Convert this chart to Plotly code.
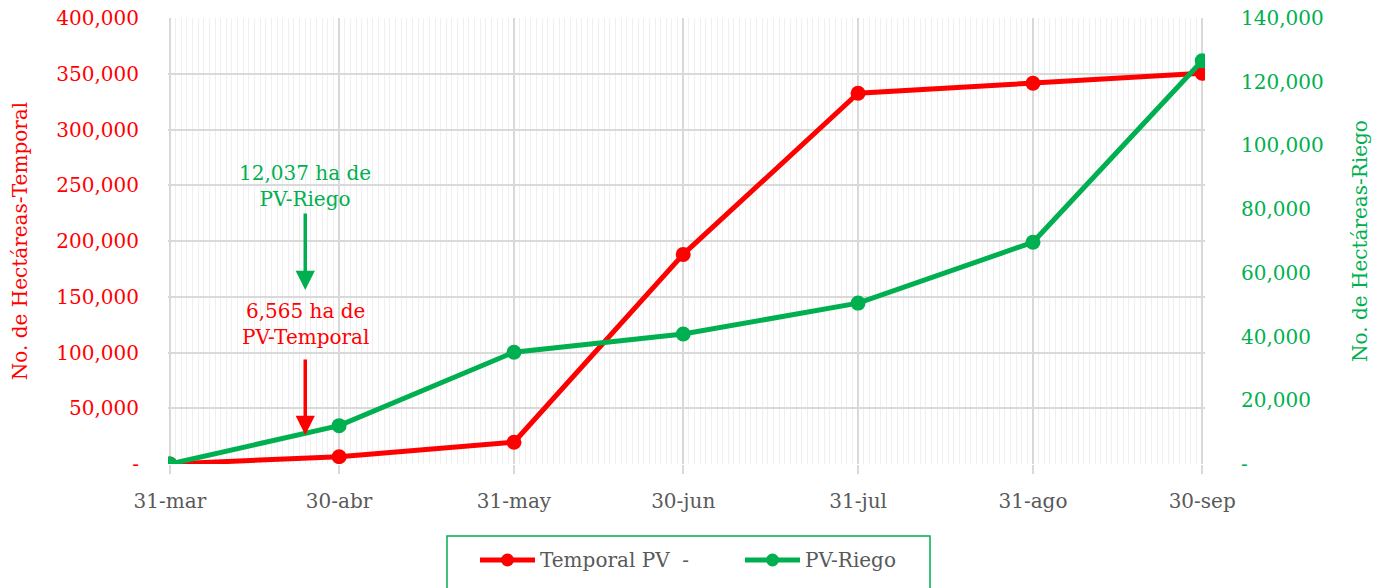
import plotly.graph_objects as go

fechas = ["2023-03-31", "2023-04-30", "2023-05-31", "2023-06-30", "2023-07-31", "2023-08-31", "2023-09-30"]
etiquetas = ["31-mar", "30-abr", "31-may", "30-jun", "31-jul", "31-ago", "30-sep"]
temporal = [0, 6565, 19500, 188000, 332500, 341500, 350500]
riego = [0, 12037, 35100, 40800, 50500, 69600, 126600]
series_names = ["Temporal PV\u00a0\u00a0-", "PV-Riego"]

left_ticks = [0, 50000, 100000, 150000, 200000, 250000, 300000, 350000, 400000]
left_text = ["-"] + [f"{v:,}" for v in left_ticks[1:]]
right_ticks = [0, 20000, 40000, 60000, 80000, 100000, 120000, 140000]
right_text = ["-"] + [f"{v:,}" for v in right_ticks[1:]]

RED = "#FF0000"
GREEN = "#00B050"
GREY = "#595959"
FONT = "DejaVu Serif"
FS = 20

fig = go.Figure()
fig.add_trace(go.Scatter(x=fechas, y=temporal, name=series_names[0], mode="lines+markers",
                         line=dict(color=RED, width=5), marker=dict(size=15, color=RED), yaxis="y"))
fig.add_trace(go.Scatter(x=fechas, y=riego, name=series_names[1], mode="lines+markers",
                         line=dict(color=GREEN, width=5), marker=dict(size=15, color=GREEN), yaxis="y2"))

# plot area spans x 168..1205, y 18..464
L, T, PW, PH = 168, 18, 1037, 446
def px(xp):
    return (xp - L) / PW
def py(yp):
    return (T + PH - yp) / PH

fig.update_layout(
    width=1382, height=588,
    margin=dict(l=168, r=177, t=18, b=124),
    paper_bgcolor="white", plot_bgcolor="white",
    font=dict(family=FONT, size=FS, color=GREY),
    showlegend=False,
    xaxis=dict(type="date", range=["2023-03-30 16:00", "2023-09-30 12:00"], automargin=False,
               tickmode="array", tickvals=fechas, ticktext=etiquetas,
               showgrid=True, gridcolor="#d9d9d9", gridwidth=1.5,
               ticks="outside", ticklen=9, tickcolor="#d9d9d9", tickwidth=1.5,
               ticklabelstandoff=10,
               tickfont=dict(size=FS, color=GREY),
               showline=False, zeroline=False,
               minor=dict(tickmode="linear", tick0="2023-03-31", dtick=86400000,
                          showgrid=True, gridcolor="#efefef", gridwidth=1, ticks="")),
    yaxis=dict(range=[0, 400000], tickmode="array", tickvals=left_ticks, ticktext=left_text,
               automargin=False, ticklabeloverflow="allow",
               tickfont=dict(size=FS, color=RED), showgrid=True, gridcolor="#d9d9d9", gridwidth=1.5,
               zeroline=False, ticks="outside", ticklen=24, tickcolor="rgba(0,0,0,0)",
               title=dict(text="No. de Hectáreas-Temporal", font=dict(size=FS, color=RED), standoff=23)),
    yaxis2=dict(range=[0, 140000], overlaying="y", side="right", tickmode="array", automargin=False,
                ticklabeloverflow="allow",
                tickvals=right_ticks, ticktext=right_text, tickfont=dict(size=FS, color=GREEN),
                showgrid=False, zeroline=False, ticks="outside", ticklen=31, tickcolor="rgba(0,0,0,0)",
                title=dict(text="No. de Hectáreas-Riego", font=dict(size=FS, color=GREEN), standoff=30)),
)

anns = [
    dict(x="2023-04-24", y=225000, text="12,037 ha de<br>PV-Riego", showarrow=False,
         font=dict(size=FS, color=GREEN), yanchor="bottom"),
    dict(x="2023-04-24", y=156000, ax=0, ay=-78, text="", showarrow=True, arrowcolor=GREEN,
         arrowwidth=3.5, arrowhead=2, arrowsize=1.1),
    dict(x="2023-04-24", y=101300, text="6,565 ha de<br>PV-Temporal", showarrow=False,
         font=dict(size=FS, color=RED), yanchor="bottom"),
    dict(x="2023-04-24", y=26000, ax=0, ay=-77, text="", showarrow=True, arrowcolor=RED,
         arrowwidth=3.5, arrowhead=2, arrowsize=1.1),
]

# legend box styled like the reference
shapes = [dict(type="rect", xref="paper", yref="paper", x0=px(447), x1=px(930), y0=py(536), y1=py(610),
               line=dict(color=GREEN, width=1.5), fillcolor="rgba(0,0,0,0)", layer="above")]
leg_y = 560
for (x0, x1, col, name) in [(480, 535, RED, series_names[0]), (745, 800, GREEN, series_names[1])]:
    shapes.append(dict(type="line", xref="paper", yref="paper", x0=px(x0), x1=px(x1), y0=py(leg_y), y1=py(leg_y),
                       line=dict(color=col, width=5), layer="above"))
    shapes.append(dict(type="circle", xref="paper", yref="paper", xsizemode="pixel", ysizemode="pixel",
                       xanchor=px((x0 + x1) / 2), yanchor=py(leg_y), x0=-6.5, x1=6.5, y0=-6.5, y1=6.5,
                       fillcolor=col, line=dict(color=col, width=0), layer="above"))
    anns.append(dict(xref="paper", yref="paper", x=px(x1 + 3), y=py(leg_y), text=name, showarrow=False,
                     xanchor="left", yanchor="middle", font=dict(size=FS, color=GREY)))

fig.update_layout(annotations=anns, shapes=shapes)

fig.write_html("out.html", config={"displayModeBar": False},
               post_script="document.body.style.margin='0px';")
